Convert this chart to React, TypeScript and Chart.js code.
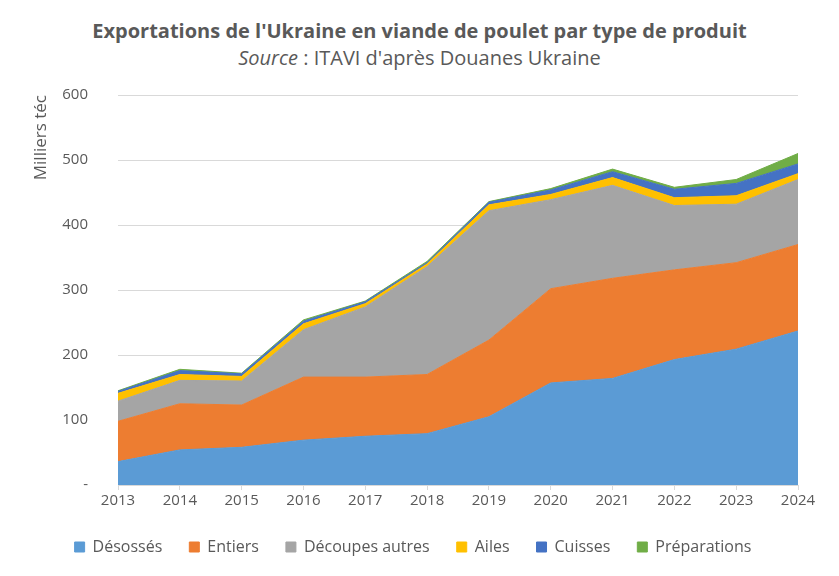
import React, { useEffect, useRef } from "react";
import Chart from "chart.js/auto";

const years = ["2013", "2014", "2015", "2016", "2017", "2018", "2019", "2020", "2021", "2022", "2023", "2024"];

const desosses = [36, 54, 58, 69, 75, 79, 105, 157, 164, 193, 209, 237];
const entiers = [62, 71, 65, 97, 91, 91, 118, 145, 154, 138, 133, 133];
const decoupesAutres = [31, 36, 37, 73, 108, 166, 199, 137, 143, 99, 90, 100];
const ailes = [12, 9, 7, 9, 5, 4, 9, 8, 12, 12, 13, 9];
const cuisses = [3, 6, 4, 4, 3, 2, 4, 7, 9, 13, 19, 15];
const preparations = [1, 2, 1, 2, 1, 2, 1, 2, 4, 3, 6, 16];

const seriesNames = ["Désossés", "Entiers", "Découpes autres", "Ailes", "Cuisses", "Préparations"];
const seriesColors = ["#5B9BD5", "#ED7D31", "#A5A5A5", "#FFC000", "#4472C4", "#70AD47"];

const yTicks = [0, 100, 200, 300, 400, 500, 600];

const textColor = "#595959";
const font = "'Open Sans'";

const App: React.FC = () => {
  const chartRef = useRef<HTMLCanvasElement | null>(null);
  const chartInstance = useRef<Chart | null>(null);

  useEffect(() => {
    document.body.style.margin = "0";
    if (!chartRef.current) return;
    const ctx = chartRef.current.getContext("2d");
    if (!ctx) return;
    if (chartInstance.current) chartInstance.current.destroy();

    const values = [desosses, entiers, decoupesAutres, ailes, cuisses, preparations];

    chartInstance.current = new Chart(ctx, {
      type: "line",
      data: {
        labels: years,
        datasets: values.map((data, i) => ({
          label: seriesNames[i],
          data,
          backgroundColor: seriesColors[i],
          borderColor: seriesColors[i],
          borderWidth: 1,
          pointRadius: 0,
          tension: 0,
          fill: i === 0 ? "origin" : "-1",
        })),
      },
      options: {
        responsive: false,
        animation: false,
        layout: { padding: { top: 95, right: 41, left: 28, bottom: 11 } },
        plugins: {
          title: { display: false },
          tooltip: { enabled: false },
          legend: {
            position: "bottom",
            labels: {
              boxWidth: 10,
              boxHeight: 10,
              padding: 27,
              color: textColor,
              font: { family: font, size: 16 },
            },
          },
        },
        scales: {
          x: {
            grid: {
              display: true,
              drawOnChartArea: false,
              drawTicks: true,
              tickLength: 5,
              color: "#D9D9D9",
            },
            border: { display: true, color: "#D9D9D9" },
            ticks: {
              color: textColor,
              font: { family: font, size: 15 },
              maxRotation: 0,
              padding: 2,
            },
          },
          y: {
            stacked: true,
            min: 0,
            max: 600,
            afterBuildTicks: (axis) => {
              axis.ticks = yTicks.map((v) => ({ value: v }));
            },
            afterFit: (axis) => {
              axis.width = 90;
            },
            grid: { color: "#D9D9D9", drawTicks: false },
            border: { display: false },
            ticks: {
              color: textColor,
              font: { family: font, size: 15 },
              padding: 30,
              callback: (v) => (Number(v) === 0 ? "-" : String(v)),
            },
            title: {
              display: true,
              text: "Milliers téc",
              align: "end",
              color: textColor,
              font: { family: font, size: 17 },
              padding: { top: 3, bottom: 12 },
            },
          },
        },
      },
    });

    return () => {
      if (chartInstance.current) {
        chartInstance.current.destroy();
        chartInstance.current = null;
      }
    };
  }, []);

  return (
    <div style={{ position: "relative", width: 839, height: 576, background: "#fff", fontFamily: font }}>
      <div
        style={{
          position: "absolute",
          top: 17,
          left: 0,
          width: 839,
          textAlign: "center",
          color: textColor,
          fontSize: 20,
          fontWeight: "bold",
          lineHeight: "28px",
        }}
      >
        Exportations de l'Ukraine en viande de poulet par type de produit
      </div>
      <div
        style={{
          position: "absolute",
          top: 44,
          left: 0,
          width: 839,
          textAlign: "center",
          color: textColor,
          fontSize: 20,
          lineHeight: "28px",
        }}
      >
        <i>Source</i> : ITAVI d'après Douanes Ukraine
      </div>
      <canvas ref={chartRef} width={839} height={576} style={{ position: "absolute", top: 0, left: 0 }}></canvas>
    </div>
  );
};

export default App;
